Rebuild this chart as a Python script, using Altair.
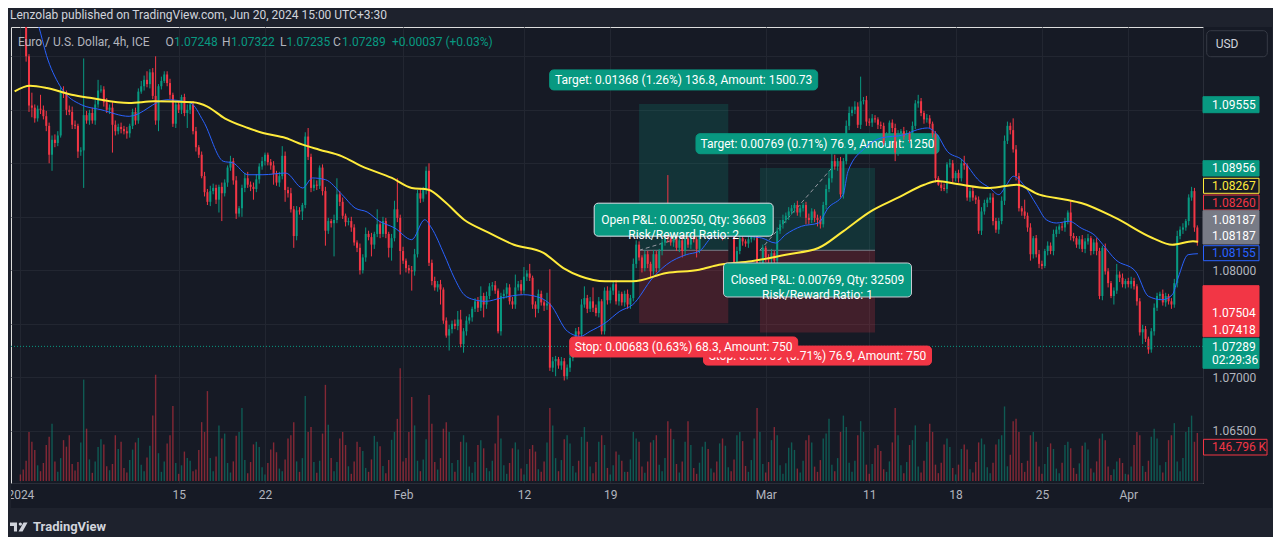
import altair as alt
import pandas as pd

# ---------------- data: EUR/USD 4h candles (prices in 1e-4 units) ----------------
FIRST_BAR = 5          # bar index of the first close below (bar 0 = Jan 1 00:00)
FIRST_OPEN = 11042
CLOSE = [
    11040, 11036, 11000, 10954, 10952, 10942, 10951, 10950, 10944, 10935,
    10908, 10922, 10919, 10926, 10966, 10965, 10950, 10948, 10936, 10935,
    10911, 10912, 10945, 10940, 10947, 10940, 10955, 10968, 10969, 10957,
    10950, 10952, 10936, 10930, 10934, 10932, 10930, 10928, 10935, 10948,
    10940, 10967, 10972, 10978, 10974, 10985, 10963, 10940, 10972, 10977,
    10983, 10975, 10964, 10937, 10955, 10950, 10962, 10947, 10950, 10955,
    10930, 10915, 10908, 10888, 10873, 10864, 10874, 10877, 10866, 10878,
    10872, 10882, 10896, 10902, 10884, 10853, 10858, 10877, 10886, 10880,
    10878, 10876, 10885, 10897, 10902, 10908, 10901, 10898, 10890, 10882,
    10888, 10907, 10875, 10872, 10857, 10832, 10856, 10855, 10861, 10925,
    10906, 10877, 10880, 10879, 10896, 10874, 10837, 10846, 10844, 10847,
    10871, 10864, 10851, 10845, 10846, 10840, 10826, 10821, 10800, 10812,
    10834, 10831, 10824, 10834, 10843, 10834, 10846, 10834, 10821, 10830,
    10857, 10849, 10818, 10809, 10802, 10800, 10799, 10815, 10872, 10867,
    10875, 10893, 10807, 10790, 10784, 10787, 10782, 10753, 10739, 10745,
    10750, 10748, 10754, 10731, 10743, 10753, 10756, 10764, 10771, 10765,
    10776, 10768, 10776, 10785, 10786, 10781, 10743, 10776, 10778, 10784,
    10771, 10768, 10784, 10787, 10781, 10794, 10797, 10793, 10768, 10764,
    10778, 10770, 10767, 10769, 10709, 10715, 10717, 10711, 10715, 10701,
    10709, 10718, 10731, 10743, 10740, 10768, 10774, 10764, 10771, 10765,
    10760, 10771, 10743, 10781, 10772, 10781, 10787, 10771, 10778, 10770,
    10778, 10768, 10774, 10806, 10824, 10812, 10802, 10815, 10806, 10799,
    10815, 10802, 10818, 10826, 10834, 10830, 10826, 10833, 10821, 10828,
    10818, 10830, 10824, 10835, 10829, 10820, 10834, 10838, 10845, 10840,
    10848, 10842, 10836, 10840, 10832, 10838, 10843, 10834, 10799, 10818,
    10830, 10827, 10825, 10829, 10832, 10834, 10799, 10806, 10821, 10812,
    10810, 10816, 10809, 10837, 10843, 10847, 10851, 10855, 10858, 10861,
    10854, 10858, 10861, 10849, 10847, 10855, 10849, 10847, 10843, 10861,
    10876, 10886, 10902, 10897, 10902, 10871, 10902, 10935, 10947, 10950,
    10953, 10936, 10958, 10959, 10939, 10938, 10942, 10941, 10936, 10935,
    10919, 10925, 10938, 10933, 10910, 10928, 10930, 10925, 10928, 10922,
    10935, 10956, 10958, 10947, 10941, 10942, 10937, 10927, 10886, 10880,
    10877, 10876, 10899, 10900, 10886, 10891, 10886, 10900, 10898, 10868,
    10874, 10868, 10866, 10837, 10855, 10863, 10866, 10868, 10846, 10838,
    10846, 10865, 10921, 10935, 10931, 10913, 10888, 10858, 10855, 10851,
    10840, 10815, 10830, 10815, 10806, 10804, 10818, 10823, 10818, 10834,
    10838, 10841, 10840, 10846, 10854, 10832, 10830, 10824, 10829, 10820,
    10827, 10830, 10818, 10826, 10818, 10776, 10821, 10799, 10788, 10776,
    10781, 10796, 10793, 10787, 10790, 10787, 10790, 10785, 10771, 10742,
    10745, 10736, 10726, 10743, 10765, 10776, 10778, 10770, 10776, 10771,
    10768, 10788, 10832, 10838, 10840, 10846, 10868, 10874, 10840, 10826,
]
UPPER_WICK = [
    3, 4, 3, 2, 12, 3, 3, 13, 4, 5,   3, 4, 5, 4, 5, 6, 3, 4, 5, 4,
    2, 3, 53, 4, 3, 5, 4, 10, 4, 3,   4, 3, 5, 4, 3, 4, 3, 4, 2, 3,
    4, 3, 5, 4, 8, 3, 4, 37, 2, 4,    3, 3, 4, 2, 3, 4, 2, 3, 5, 3,
    3, 4, 2, 3, 4, 3, 5, 4, 3, 2,     4, 3, 2, 5, 3, 4, 2, 3, 5, 6,
    3, 4, 5, 3, 4, 2, 2, 3, 4, 3,     4, 9, 4, 3, 5, 3, 4, 3, 2, 4,
    8, 3, 5, 4, 2, 3, 4, 3, 2, 5,     15, 3, 4, 2, 3, 4, 3, 2, 4, 3,
    6, 3, 4, 2, 14, 3, 4, 3, 2, 4,    8, 29, 3, 4, 2, 3, 4, 5, 3, 5,
    3, 4, 7, 3, 4, 3, 4, 2, 3, 4,     3, 4, 8, 9, 3, 4, 3, 2, 3, 4,
    9, 3, 4, 3, 3, 4, 2, 3, 4, 4,     3, 4, 12, 3, 4, 9, 3, 9, 2, 3,
    4, 3, 2, 10, 32, 4, 3, 2, 4, 3,   3, 4, 2, 3, 4, 5, 11, 3, 4, 13,
    3, 4, 2, 3, 4, 3, 3, 4, 3, 2,     3, 4, 3, 5, 4, 3, 2, 4, 3, 2,
    4, 3, 2, 3, 4, 55, 3, 4, 2, 3,    4, 2, 3, 4, 3, 2, 3, 4, 3, 2,
    3, 4, 2, 3, 4, 3, 2, 3, 2, 4,     3, 4, 2, 3, 4, 2, 3, 4, 3, 2,
    3, 4, 2, 3, 4, 5, 3, 4, 3, 2,     4, 3, 2, 3, 4, 3, 2, 3, 4, 3,
    4, 7, 8, 6, 3, 4, 3, 5, 6, 3,     5, 4, 23, 3, 4, 3, 4, 3, 2, 3,
    3, 4, 2, 3, 4, 3, 2, 4, 3, 2,     4, 3, 6, 3, 2, 4, 3, 2, 3, 2,
    3, 4, 2, 4, 3, 2, 3, 4, 7, 2,     3, 4, 2, 3, 4, 3, 2, 4, 4, 3,
    3, 4, 5, 4, 3, 11, 4, 3, 2, 11,   3, 4, 2, 3, 4, 3, 2, 4, 3, 4,
    3, 2, 4, 3, 2, 11, 3, 2, 3, 4,    3, 4, 2, 3, 4, 3, 2, 4, 3, 2,
    3, 10, 3, 4, 2, 3, 4, 3, 2, 3,    4, 3, 2, 3, 4, 3, 2, 4, 3, 2,
    3, 4, 5, 3, 4, 2, 3, 4, 3, 2,
]
LOWER_WICK = [
    3, 4, 5, 6, 9, 4, 3, 4, 3, 5,     8, 15, 4, 3, 2, 4, 5, 3, 4, 3,
    6, 4, 35, 3, 4, 3, 4, 3, 2, 4,    3, 4, 26, 4, 3, 4, 3, 5, 4, 3,
    4, 3, 2, 4, 3, 4, 3, 4, 10, 3,    2, 3, 4, 3, 4, 3, 4, 3, 14, 4,
    3, 4, 3, 2, 4, 3, 4, 3, 4, 12,    26, 3, 4, 3, 4, 5, 3, 8, 4, 3,
    4, 10, 3, 4, 3, 4, 3, 4, 10, 3,   4, 3, 11, 4, 3, 11, 4, 3, 8, 3,
    3, 4, 3, 4, 3, 4, 14, 3, 4, 31,   3, 4, 3, 4, 3, 4, 3, 4, 4, 3,
    4, 3, 11, 4, 3, 4, 3, 4, 9, 12,   3, 4, 22, 3, 4, 3, 18, 4, 3, 4,
    3, 4, 3, 4, 3, 4, 14, 3, 2, 14,   4, 3, 4, 3, 8, 4, 3, 4, 3, 4,
    3, 12, 4, 3, 4, 3, 2, 4, 3, 4,    3, 4, 4, 3, 4, 3, 4, 3, 4, 8,
    4, 3, 5, 4, 3, 4, 14, 3, 4, 4,    3, 4, 3, 4, 3, 4, 3, 4, 3, 4,
    3, 4, 3, 3, 4, 3, 4, 3, 4, 3,     4, 4, 4, 3, 4, 3, 4, 3, 4, 6,
    3, 4, 3, 4, 3, 4, 3, 4, 3, 4,     6, 4, 3, 4, 3, 8, 4, 3, 4, 3,
    4, 3, 4, 3, 4, 3, 4, 3, 2, 4,     3, 4, 3, 4, 3, 4, 2, 4, 3, 4,
    3, 4, 19, 4, 3, 4, 3, 4, 3, 4,    3, 4, 3, 6, 4, 3, 4, 6, 4, 3,
    4, 3, 4, 3, 4, 3, 4, 3, 4, 3,     4, 3, 4, 3, 4, 3, 4, 3, 4, 3,
    2, 4, 3, 4, 8, 3, 4, 3, 4, 3,     4, 3, 4, 3, 4, 3, 4, 3, 4, 1,
    3, 2, 4, 3, 4, 3, 4, 3, 4, 3,     4, 3, 4, 3, 4, 3, 4, 3, 4, 3,
    4, 3, 4, 3, 4, 3, 4, 3, 4, 3,     4, 6, 4, 3, 4, 3, 2, 4, 3, 4,
    3, 4, 3, 4, 3, 4, 3, 3, 4, 3,     4, 3, 4, 3, 4, 3, 4, 3, 4, 2,
    8, 3, 4, 3, 4, 3, 4, 3, 4, 3,     11, 3, 4, 3, 4, 3, 4, 3, 4, 3,
    4, 3, 4, 3, 4, 3, 4, 3, 4, 3,
]
VOLUME_K = [
    20,
    35, 62, 150, 120, 95, 48,   30, 55, 110, 135, 175, 60,   28, 70, 125, 105, 140, 52,
    32, 58, 118, 310, 160, 66,  25, 60, 104, 128, 112, 45,   33, 52, 140, 98, 120, 40,
    26, 64, 96, 118, 132, 50,   30, 72, 108, 200, 325, 85,   28, 60, 115, 140, 229, 55,
    22, 48, 90, 70, 62, 30,     35, 95, 180, 150, 275, 70,   30, 75, 170, 130, 145, 55,
    26, 60, 138, 150, 223, 64,  24, 58, 112, 120, 104, 42,   20, 55, 96, 118, 88, 38,
    30, 66, 130, 140, 180, 60,  28, 70, 260, 150, 165, 58,   25, 62, 145, 294, 172, 70,
    30, 58, 130, 150, 110, 45,  22, 60, 120, 104, 92, 40,    28, 66, 138, 120, 106, 46,
    24, 64, 126, 150, 190, 345, 60, 70, 150, 257, 170, 62,   30, 66, 128, 263, 175, 58,
    35, 70, 160, 180, 150, 55,  28, 64, 120, 140, 118, 44,   25, 58, 110, 125, 100, 40,
    30, 62, 115, 200, 130, 48,  22, 55, 100, 118, 96, 38,    20, 52, 98, 110, 90, 36,
    28, 60, 118, 223, 170, 70,  30, 64, 128, 140, 115, 46,   26, 62, 135, 165, 120, 44,
    24, 58, 120, 140, 110, 40,  20, 48, 90, 80, 62, 28,      28, 66, 150, 130, 120, 44,
    25, 60, 118, 125, 140, 50,  30, 70, 183, 160, 128, 52,   26, 60, 120, 183, 110, 40,
    22, 56, 105, 120, 98, 38,   26, 60, 115, 130, 108, 42,   30, 66, 140, 150, 122, 46,
    28, 64, 130, 223, 150, 52,  26, 58, 125, 165, 140, 48,   22, 54, 102, 118, 95, 38,
    26, 62, 125, 140, 118, 44,  28, 64, 130, 145, 190, 50,   30, 70, 150, 200, 165, 56,
    28, 62, 140, 183, 150, 50,  22, 52, 100, 110, 92, 36,    28, 60, 118, 223, 140, 48,
    24, 58, 110, 125, 170, 44,  26, 62, 120, 175, 150, 50,   24, 56, 112, 130, 104, 40,
    20, 50, 98, 112, 96, 36,    26, 58, 118, 130, 112, 42,   24, 56, 112, 128, 140, 228,
    45, 80, 183, 190, 150, 55,  28, 62, 140, 150, 120, 44,   22, 52, 104, 115, 98, 38,
    24, 56, 110, 120, 100, 40,  22, 54, 108, 118, 96, 38,    26, 60, 130, 145, 125, 44,
    18, 36, 60, 70, 55, 22,     20, 44, 110, 150, 140, 46,   28, 62, 135, 160, 130, 48,
    26, 58, 125, 140, 177, 60,  30, 70, 150, 165, 200, 120,
    146.796,
]

TIME_TICK_BARS = [5, 60, 90, 138, 180, 210, 264, 300, 330, 360, 390]
TIME_TICK_LABELS = ["2024", "15", "22", "Feb", "12", "19", "Mar", "11", "18", "25", "Apr"]
PRICE_TICKS = [1.065, 1.070, 1.075, 1.080, 1.085, 1.090, 1.095, 1.100]
PRICE_TICKS_UNCOVERED = [1.065, 1.070, 1.080]   # the others sit under the price tags

BLUE_BAR = [3, 8, 10.6, 14.6, 19.2, 26.1, 33.0, 42.8, 55.9, 64.1, 68.6, 75.5, 78.9, 84.1, 89.3,
            97.2, 103.1, 106.5, 111.0, 116.8, 121.3, 125.5, 129.6, 135.1, 141.0, 145.5, 147.9,
            152.3, 155.8, 159.2, 162.7, 166.8, 172.0, 179.9, 185.8, 189.2, 195.1, 199.6, 203.0,
            208.2, 213.3, 217.8, 224.7, 229.5, 236.4, 240.9, 246.1, 254.7, 262.6, 267.4, 270.9,
            276.4, 282.3, 285.7, 290.9, 292.6, 298.5, 304.0, 312.2, 316.7, 320.2, 323.6, 327.1,
            332.2, 338.4, 341.9, 345.0, 347.7, 350.1, 353.6, 358.1, 361.5, 365.0, 369.5, 373.6,
            378.7, 381.2, 385.6, 392.5, 397.0, 401.8, 405.3, 407.3, 410.8, 414.2]
BLUE_PRICE = [1.1055, 1.1046, 1.10339, 1.09965, 1.09704, 1.09548, 1.09501, 1.09439, 1.09594, 1.09564,
              1.09393, 1.09019, 1.09003, 1.08893, 1.08893, 1.08909, 1.08769, 1.08863, 1.08847, 1.08707,
              1.08582, 1.08545, 1.08461, 1.08395, 1.08286, 1.08473, 1.08395, 1.08146, 1.07928, 1.07772,
              1.07725, 1.07710, 1.07741, 1.07772, 1.07741, 1.07679, 1.07430, 1.07383, 1.07430, 1.07507,
              1.07617, 1.07679, 1.07928, 1.08052, 1.08146, 1.08178, 1.08318, 1.08321, 1.08302, 1.08255,
              1.08333, 1.08411, 1.08442, 1.08582, 1.08707, 1.08925, 1.09143, 1.09236, 1.09267, 1.09314,
              1.09330, 1.09267, 1.09112, 1.09034, 1.08832, 1.08769, 1.08707, 1.08800, 1.08879, 1.08800,
              1.08613, 1.08473, 1.08442, 1.08458, 1.08395, 1.08318, 1.08239, 1.08099, 1.07991, 1.07757,
              1.07725, 1.07772, 1.07928, 1.08146, 1.08155]
YELLOW_BAR = [3, 8.3, 14.2, 22.8, 29.7, 42.8, 51.4, 65, 70, 76, 84.1, 89.3, 97.2, 103.1, 108.9,
              116.8, 123.7, 134.1, 141, 146.8, 152.3, 159.2, 166.8, 176.5, 186.8, 193.7, 199.6,
              208.2, 217.8, 229.5, 240.9, 247.8, 259, 271, 282.3, 290.9, 300.5, 309.8, 319.1,
              323.6, 330.5, 341.9, 351.2, 359.1, 368.4, 373.6, 385.6, 398.4, 405.3, 412.5, 414.2]
YELLOW_PRICE = [1.09673, 1.09725, 1.09704, 1.09641, 1.09610, 1.09564, 1.09579, 1.09570, 1.09530, 1.09420,
                1.09330, 1.09283, 1.09236, 1.09174, 1.09127, 1.09065, 1.08972, 1.08863, 1.08769, 1.08753,
                1.08645, 1.08473, 1.08364, 1.08239, 1.08162, 1.08021, 1.07944, 1.07897, 1.07897, 1.07975,
                1.08006, 1.08052, 1.08084, 1.08146, 1.08208, 1.08364, 1.08551, 1.08676, 1.08800, 1.08834,
                1.08806, 1.08769, 1.08800, 1.08707, 1.08660, 1.08629, 1.08489, 1.08302, 1.08239, 1.08271,
                1.08267]

LAST_PRICE = 1.07289
LAST_CLOSE_VISIBLE = 1.08260
LEGEND_OHLC = ["1.07248", "1.07322", "1.07235", "1.07289"]
LEGEND_CHANGE = "+0.00037 (+0.03%)"
LAST_VOLUME_TEXT = "146.796 K"
COUNTDOWN = "02:29:36"

# long positions
POS_START = [220, 262]
POS_END = [251, 302]
POS_ENTRY = [1.08187, 1.08187]
POS_TARGET = [1.09555, 1.08956]
POS_STOP = [1.07504, 1.07418]
POS_EXIT_BAR = [251, 287]
POS_EXIT_PRICE = [1.08437, 1.08956]
POS_TARGET_TEXT = ["Target: 0.01368 (1.26%) 136.8, Amount: 1500.73",
                   "Target: 0.00769 (0.71%) 76.9, Amount: 1250"]
POS_PNL_TEXT = ["Open P&L: 0.00250, Qty: 36603\nRisk/Reward Ratio: 2",
                "Closed P&L: 0.00769, Qty: 32509\nRisk/Reward Ratio: 1"]
POS_STOP_TEXT = ["Stop: 0.00683 (0.63%) 68.3, Amount: 750",
                 "Stop: 0.00769 (0.71%) 76.9, Amount: 750"]

# ---------------- style / layout ----------------
G, R = "#089981", "#f23645"
PANE, FRAME = "#161a25", "#1e222d"
GRID, BORDER = "#222631", "#2a2e39"
TXT, TXT_LIGHT = "#b2b5be", "#d1d4dc"
BLUE, YELLOW, GREYTAG = "#2962ff", "#ffeb3b", "#787b86"
FONT = "Roboto"

W, H = 1192, 456
X_DOMAIN = [3.48, 414.23]
Y_DOMAIN = [1.060121, 1.102738]
PX_PER_PRICE = H / (Y_DOMAIN[1] - Y_DOMAIN[0])
VOL_PX_PER_K = 0.327

XS = alt.Scale(domain=X_DOMAIN, nice=False, zero=False)
YS = alt.Scale(domain=Y_DOMAIN, nice=False, zero=False)
x_label_expr = "".join(f"datum.value == {t} ? '{l}' : " for t, l in zip(TIME_TICK_BARS, TIME_TICK_LABELS)) + "''"
y_label_expr = ("indexof([" + ",".join(f"'{v:.5f}'" for v in PRICE_TICKS_UNCOVERED) +
                "], format(datum.value, '.5f')) >= 0 ? format(datum.value, '.5f') : ''")
XAX = alt.Axis(values=TIME_TICK_BARS, labelExpr=x_label_expr, grid=True, gridColor=GRID, ticks=False,
               domainColor=BORDER, labelColor=TXT, labelFontSize=12, labelFont=FONT, labelPadding=6,
               labelOverlap=False, labelFlush=False, labelBound=False, title=None, zindex=0)
YAX = alt.Axis(orient="right", values=PRICE_TICKS, labelExpr=y_label_expr,
               grid=True, gridColor=GRID, ticks=False, domainColor=BORDER, labelColor=TXT,
               labelFontSize=12, labelFont=FONT, labelPadding=9, labelAlign="left",
               labelOverlap=False, labelBound=False, title=None, zindex=0)


def X(f):
    return alt.X(f, type="quantitative", scale=XS, axis=XAX, title=None)


def Y(f):
    return alt.Y(f, type="quantitative", scale=YS, axis=YAX, title=None)


# ---------------- build tables ----------------
rows = []
prev = FIRST_OPEN / 1e4
n = min(len(CLOSE), len(UPPER_WICK), len(LOWER_WICK), len(VOLUME_K))
for k in range(n):
    o = prev
    c = CLOSE[k] / 1e4
    top, bot = max(o, c), min(o, c)
    btop = top if top - bot >= 0.0001 else bot + 0.0001
    rows.append(dict(i=FIRST_BAR + k, o=o, c=c, bt=btop, bb=bot,
                     h=top + UPPER_WICK[k] / 1e4, l=bot - LOWER_WICK[k] / 1e4,
                     v=VOLUME_K[k], dir="up" if c >= o else "down"))
    prev = c
candles = pd.DataFrame(rows)
vol_base = Y_DOMAIN[0] + 2 / PX_PER_PRICE
candles["vb"] = vol_base
candles["vt"] = vol_base + candles["v"] * VOL_PX_PER_K / PX_PER_PRICE

blue = pd.DataFrame({"i": BLUE_BAR, "p": BLUE_PRICE})
yellow = pd.DataFrame({"i": YELLOW_BAR, "p": YELLOW_PRICE})

pos = pd.DataFrame({"s": POS_START, "e": POS_END, "en": POS_ENTRY, "tg": POS_TARGET, "st": POS_STOP,
                    "xb": POS_EXIT_BAR, "xp": POS_EXIT_PRICE})

color_dir = alt.Color("dir:N", scale=alt.Scale(domain=["up", "down"], range=[G, R]), legend=None)

layers = []

# frame around the pane
frame = pd.DataFrame([
    dict(x=-3, x2=W + 70, y=-19, y2=0),
    dict(x=-3, x2=0, y=-19, y2=H + 54),
    dict(x=-3, x2=W + 70, y=H + 25, y2=H + 54),
    dict(x=W + 69, x2=W + 70, y=-19, y2=H + 54),
])
layers.append(alt.Chart(frame).mark_rect(color=FRAME).encode(
    x=alt.X("x:Q", scale=None), x2="x2:Q", y=alt.Y("y:Q", scale=None), y2="y2:Q"))

# position zones
layers.append(alt.Chart(pos).mark_rect(color=G, opacity=0.2).encode(
    x=X("s"), x2=alt.X2("e"), y=Y("en"), y2=alt.Y2("tg")))
layers.append(alt.Chart(pos).mark_rect(color=R, opacity=0.2).encode(
    x=X("s"), x2=alt.X2("e"), y=Y("en"), y2=alt.Y2("st")))
layers.append(alt.Chart(pos).mark_rule(color=GREYTAG, strokeWidth=1).encode(
    x=X("s"), x2=alt.X2("e"), y=Y("en")))
layers.append(alt.Chart(pos).mark_rule(color="#9598a1", strokeWidth=1, strokeDash=[4, 3]).encode(
    x=X("s"), x2=alt.X2("xb"), y=Y("en"), y2=alt.Y2("xp")))


def pos_label(center, level, text, dy, w, h, fill, stroke):
    d = pd.DataFrame([{"c": center, "lvl": level, "t": text}])
    box = alt.Chart(d).mark_rect(fill=fill, stroke=stroke, strokeWidth=1, cornerRadius=4,
                                 xOffset=-w / 2, x2Offset=w / 2,
                                 yOffset=dy - h / 2, y2Offset=dy + h / 2).encode(
        x=X("c"), x2=alt.X2("c"), y=Y("lvl"), y2=alt.Y2("lvl"))
    txt = alt.Chart(d).mark_text(color="#ffffff", font=FONT, fontSize=12, dy=dy, lineBreak="\n",
                                 lineHeight=15, align="center", baseline="middle").encode(
        x=X("c"), y=Y("lvl"), text="t:N")
    return [box, txt]


centers = [(s + e) / 2 for s, e in zip(POS_START, POS_END)]

# second position target label sits beneath the candles
layers += pos_label(centers[1], POS_TARGET[1], POS_TARGET_TEXT[1], -24.3, 243, 20, G, G)

# volume
layers.append(alt.Chart(candles).mark_bar(width=1.4, opacity=0.5, clip=True).encode(
    x=X("i"), y=Y("vb"), y2=alt.Y2("vt"), color=color_dir))

# candles
layers.append(alt.Chart(candles).mark_rule(strokeWidth=1, clip=True).encode(
    x=X("i"), y=Y("l"), y2=alt.Y2("h"), color=color_dir))
layers.append(alt.Chart(candles).mark_bar(width=2, clip=True).encode(
    x=X("i"), y=Y("bb"), y2=alt.Y2("bt"), color=color_dir))

# moving averages
layers.append(alt.Chart(blue).mark_line(color=BLUE, strokeWidth=1, interpolate="monotone", clip=True).encode(
    x=X("i"), y=Y("p")))
layers.append(alt.Chart(yellow).mark_line(color=YELLOW, strokeWidth=2, interpolate="monotone", clip=True).encode(
    x=X("i"), y=Y("p")))

# last price dotted line
layers.append(alt.Chart(pd.DataFrame({"p": [LAST_PRICE]})).mark_rule(
    color=G, strokeWidth=1, strokeDash=[1, 2]).encode(y=Y("p")))

# remaining position labels
layers += pos_label(centers[1], POS_ENTRY[1], POS_PNL_TEXT[1], 29.7, 188, 34, G, "#c9cbd1")
layers += pos_label(centers[1], POS_STOP[1], POS_STOP_TEXT[1], 23.0, 228, 19, R, R)
layers += pos_label(centers[0], POS_STOP[0], POS_STOP_TEXT[0], 23.6, 228, 20, R, R)
layers += pos_label(centers[0], POS_TARGET[0], POS_TARGET_TEXT[0], -24.0, 268, 20, G, G)
layers += pos_label(centers[0], POS_ENTRY[0], POS_PNL_TEXT[0], -30.6, 179, 33, G, "#e0e3eb")

# right price-scale tags
tag_boxes = pd.DataFrame([
    dict(x=W, x2=W + 56, y=69.7, y2=85.7, f=G, s=G),
    dict(x=W, x2=W + 56, y=133.7, y2=149.0, f=G, s=G),
    dict(x=W + 0.5, x2=W + 56, y=151.3, y2=166.3, f=PANE, s=YELLOW),
    dict(x=W + 0.5, x2=W + 56, y=168.0, y2=183.0, f=PANE, s=R),
    dict(x=W, x2=W + 56, y=183.7, y2=217.0, f=GREYTAG, s=GREYTAG),
    dict(x=W + 0.5, x2=W + 56, y=218.7, y2=233.7, f=PANE, s=BLUE),
    dict(x=W, x2=W + 56, y=258.7, y2=309.7, f=R, s=R),
    dict(x=W, x2=W + 56, y=311.3, y2=341.3, f=G, s=G),
    dict(x=W + 0.5, x2=W + 64, y=412.3, y2=428.0, f=PANE, s=R),
])
layers.append(alt.Chart(tag_boxes).mark_rect(strokeWidth=1).encode(
    x=alt.X("x:Q", scale=None), x2="x2:Q", y=alt.Y("y:Q", scale=None), y2="y2:Q",
    fill=alt.Fill("f:N", scale=None), stroke=alt.Stroke("s:N", scale=None)))

tag_text = pd.DataFrame([
    dict(t=f"{POS_TARGET[0]:.5f}", y=77.7, c="#ffffff"),
    dict(t=f"{POS_TARGET[1]:.5f}", y=141.3, c="#ffffff"),
    dict(t=f"{YELLOW_PRICE[-1]:.5f}", y=158.8, c=YELLOW),
    dict(t=f"{LAST_CLOSE_VISIBLE:.5f}", y=175.5, c=R),
    dict(t=f"{POS_ENTRY[0]:.5f}", y=192.5, c="#ffffff"),
    dict(t=f"{POS_ENTRY[1]:.5f}", y=209.0, c="#ffffff"),
    dict(t=f"{BLUE_PRICE[-1]:.5f}", y=226.2, c=BLUE),
    dict(t=f"{POS_STOP[0]:.5f}", y=286.3, c="#ffffff"),
    dict(t=f"{POS_STOP[1]:.5f}", y=303.0, c="#ffffff"),
    dict(t=f"{LAST_PRICE:.5f}", y=319.7, c="#ffffff"),
    dict(t=COUNTDOWN, y=333.0, c="#ffffff"),
    dict(t=LAST_VOLUME_TEXT, y=420.0, c=R),
])
tag_text["x"] = W + 9
layers.append(alt.Chart(tag_text).mark_text(font=FONT, fontSize=12, align="left", baseline="middle").encode(
    x=alt.X("x:Q", scale=None), y=alt.Y("y:Q", scale=None), text="t:N", color=alt.Color("c:N", scale=None)))

# USD button
layers.append(alt.Chart(pd.DataFrame([dict(x=1195.7, x2=1256.3, y=3.7, y2=29.7)])).mark_rect(
    fill=PANE, stroke="#363a45", strokeWidth=1, cornerRadius=4).encode(
    x=alt.X("x:Q", scale=None), x2="x2:Q", y=alt.Y("y:Q", scale=None), y2="y2:Q"))

# header, legend, footer texts
ui_text = pd.DataFrame([
    dict(x=-1, y=-12, t="Lenzolab published on TradingView.com, Jun 20, 2024 15:00 UTC+3:30", c=TXT_LIGHT),
    dict(x=7, y=14.7, t="Euro / U.S. Dollar, 4h, ICE", c=TXT),
    dict(x=154.5, y=14.7, t="O", c=TXT), dict(x=163, y=14.7, t=LEGEND_OHLC[0], c=G),
    dict(x=211, y=14.7, t="H", c=TXT), dict(x=220, y=14.7, t=LEGEND_OHLC[1], c=G),
    dict(x=269, y=14.7, t="L", c=TXT), dict(x=275.5, y=14.7, t=LEGEND_OHLC[2], c=G),
    dict(x=322, y=14.7, t="C", c=TXT), dict(x=331, y=14.7, t=LEGEND_OHLC[3], c=G),
    dict(x=381, y=14.7, t=LEGEND_CHANGE, c=G),
    dict(x=1204.7, y=17, t="USD", c=TXT_LIGHT),
])
layers.append(alt.Chart(ui_text).mark_text(font=FONT, fontSize=12, align="left", baseline="middle").encode(
    x=alt.X("x:Q", scale=None), y=alt.Y("y:Q", scale=None), text="t:N", color=alt.Color("c:N", scale=None)))

layers.append(alt.Chart(pd.DataFrame([dict(x=22, y=500, t="TradingView")])).mark_text(
    font=FONT, fontSize=13, fontWeight="bold", align="left", baseline="middle", color=TXT_LIGHT).encode(
    x=alt.X("x:Q", scale=None), y=alt.Y("y:Q", scale=None), text="t:N"))

logo_path = ("M-1,-0.5 H-0.22 V0.5 H-0.56 V-0.11 H-1 Z "
             "M-0.03,-0.32 a0.18,0.18 0 1,0 0.36,0 a0.18,0.18 0 1,0 -0.36,0 Z "
             "M0.5,-0.5 H0.95 L0.4,0.5 H-0.05 Z")
layers.append(alt.Chart(pd.DataFrame([dict(x=8, y=500)])).mark_point(
    shape=logo_path, filled=True, size=324, color=TXT_LIGHT, opacity=1).encode(
    x=alt.X("x:Q", scale=None), y=alt.Y("y:Q", scale=None)))

chart = alt.layer(*layers).properties(
    width=W, height=H, background=PANE,
    padding={"left": 3, "top": 19, "right": 70, "bottom": 54},
    autosize=alt.AutoSizeParams(type="none"),
).configure_view(strokeWidth=0).configure(font=FONT)

chart.save("out.html", embed_options={"renderer": "svg", "actions": False})
